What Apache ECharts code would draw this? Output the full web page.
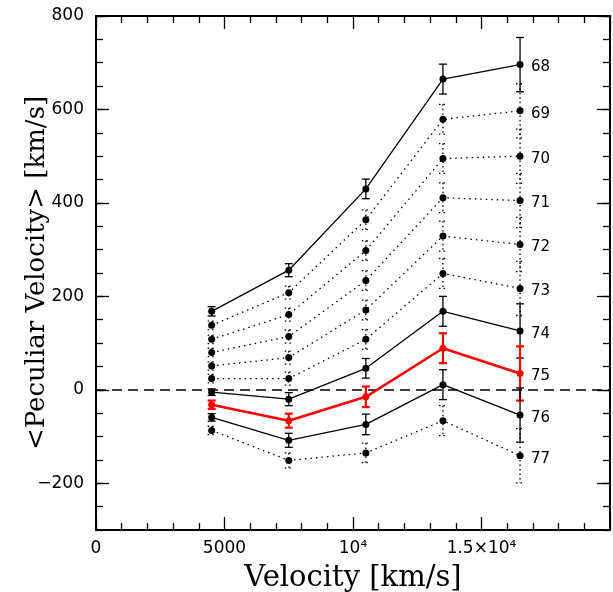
<!DOCTYPE html>
<html>
<head>
<meta charset="utf-8">
<script src="https://cdn.jsdelivr.net/npm/echarts@6/dist/echarts.min.js"></script>
<style>
html,body{margin:0;padding:0;background:#fff;}
#chart{width:613px;height:592px;}
</style>
</head>
<body>
<div id="chart"></div>
<script>
// ---- data ----
const xValues = [4500, 7500, 10500, 13500, 16500];
const seriesNames = ['68','69','70','71','72','73','74','75','76','77'];
const s68 = [168, 256, 430, 665, 696];
const s69 = [138, 208, 364, 579, 597];
const s70 = [108, 161, 298, 495, 500];
const s71 = [80, 114, 234, 411, 405];
const s72 = [51, 69, 171, 329, 311];
const s73 = [24, 24, 108, 249, 217];
const s74 = [-5, -20, 46, 168, 126];
const s75 = [-32, -66, -15, 89, 35];
const s76 = [-59, -108, -74, 11, -54];
const s77 = [-87, -151, -135, -66, -141];
const e68 = [10, 14, 21, 32, 58];
const e69 = [9, 14, 21, 32, 58];
const e70 = [9, 14, 21, 32, 58];
const e71 = [9, 14, 21, 32, 58];
const e72 = [9, 14, 21, 32, 58];
const e73 = [9, 14, 21, 32, 58];
const e74 = [7, 14, 21, 32, 58];
const e75 = [9, 15, 22, 32, 58];
const e76 = [8, 15, 22, 32, 58];
const e77 = [9, 16, 21, 32, 58];
const xTickValues = [0, 5000, 10000, 15000, 20000];
const xTickLabels = ['0', '5000', '10⁴', '1.5×10⁴', ''];
const yMajorTicks = [-200, 0, 200, 400, 600, 800];
const yTickLabels = ['−200', '0', '200', '400', '600', '800'];

// ---- styling (not data) ----
const values = [s68, s69, s70, s71, s72, s73, s74, s75, s76, s77];
const errors = [e68, e69, e70, e71, e72, e73, e74, e75, e76, e77];
const dotted = [false, true, true, true, true, true, false, false, false, true];
const colors = ['#000','#000','#000','#000','#000','#000','#000','#ff0000','#000','#000'];
const widths = [1.3, 1.3, 1.3, 1.3, 1.3, 1.3, 1.3, 2.6, 1.3, 1.3];

const yMin = -300, yMax = 800;
const yMinor = [];
for (let v = yMin; v <= yMax; v += 50) yMinor.push(v);

const tickFont = 'DejaVu Sans';
const lineBlack = {color: '#000', width: 2};

function xFmt(v) {
  const i = xTickValues.indexOf(v);
  return i >= 0 ? xTickLabels[i] : '';
}
function yFmt(v) {
  const i = yMajorTicks.indexOf(v);
  return i >= 0 ? yTickLabels[i] : '';
}

const series = [];
values.forEach((vals, k) => {
  const col = colors[k];
  const lw = widths[k];
  // error bars
  series.push({
    type: 'custom',
    xAxisIndex: 0, yAxisIndex: 0,
    z: 2,
    silent: true,
    data: xValues.map((x, i) => [x, vals[i], errors[k][i]]),
    renderItem: function (params, api) {
      const x = api.value(0), y = api.value(1), e = api.value(2);
      const top = api.coord([x, y + e]);
      const bot = api.coord([x, y - e]);
      const w = 4;
      const style = {stroke: col, lineWidth: k === 7 ? 2.2 : 1.3, fill: null};
      if (dotted[k]) style.lineDash = [1.5, 3];
      return {
        type: 'group',
        children: [
          {type: 'line', shape: {x1: top[0], y1: top[1], x2: bot[0], y2: bot[1]}, style: style},
          {type: 'line', shape: {x1: top[0] - w, y1: top[1], x2: top[0] + w, y2: top[1]}, style: style},
          {type: 'line', shape: {x1: bot[0] - w, y1: bot[1], x2: bot[0] + w, y2: bot[1]}, style: style}
        ]
      };
    }
  });
  const s = {
    type: 'line',
    name: seriesNames[k],
    xAxisIndex: 0, yAxisIndex: 0,
    z: k === 7 ? 5 : 3,
    data: xValues.map((x, i) => [x, vals[i]]),
    symbol: 'circle',
    symbolSize: 7,
    showSymbol: true,
    animation: false,
    itemStyle: {color: col},
    lineStyle: {color: col, width: lw, type: dotted[k] ? [1.5, 4] : 'solid'},
    endLabel: {
      show: true,
      formatter: '{a}',
      distance: 11,
      offset: [0, 3],
      color: '#000',
      fontFamily: tickFont,
      fontSize: 15
    }
  };
  if (k === 0) {
    s.markLine = {
      silent: true,
      symbol: 'none',
      animation: false,
      label: {show: false},
      lineStyle: {color: '#000', width: 1.5, type: [10, 6]},
      data: [{yAxis: 0}]
    };
  }
  series.push(s);
});

const chart = echarts.init(document.getElementById('chart'), null, {renderer: 'canvas'});
chart.setOption({
  animation: false,
  backgroundColor: '#fff',
  grid: {left: 96, right: 3, top: 16, bottom: 62, containLabel: false, outerBoundsMode: 'none'},
  xAxis: [
    {
      type: 'value', position: 'bottom', min: 0, max: 20000, interval: 5000,
      axisLine: {show: true, onZero: false, lineStyle: lineBlack},
      axisTick: {show: true, inside: true, length: 13, lineStyle: {color: '#000', width: 1.3}},
      minorTick: {show: true, splitNumber: 5, length: 7, lineStyle: {color: '#000', width: 1.3}},
      splitLine: {show: false},
      axisLabel: {formatter: xFmt, color: '#000', fontFamily: tickFont, fontSize: 17, margin: 10, showMaxLabel: false},
      name: 'Velocity [km/s]', nameLocation: 'middle', nameGap: 34, nameMoveOverlap: false,
      nameTextStyle: {fontFamily: 'DejaVu Serif', fontSize: 29, color: '#000'}
    },
    {
      type: 'value', position: 'top', min: 0, max: 20000, interval: 5000,
      axisLine: {show: true, onZero: false, lineStyle: lineBlack},
      axisTick: {show: true, inside: true, length: 13, lineStyle: {color: '#000', width: 1.3}},
      minorTick: {show: true, splitNumber: 5, length: 7, lineStyle: {color: '#000', width: 1.3}},
      splitLine: {show: false},
      axisLabel: {show: false}
    }
  ],
  yAxis: [
    {
      type: 'value', position: 'left', min: yMin, max: yMax,
      axisLine: {show: true, onZero: false, lineStyle: lineBlack},
      axisTick: {show: true, inside: true, length: 7, customValues: yMinor, lineStyle: {color: '#000', width: 1.3}},
      splitLine: {show: false},
      axisLabel: {customValues: yMajorTicks, formatter: yFmt, color: '#000', fontFamily: tickFont, fontSize: 17, margin: 12},
      name: '<Peculiar Velocity> [km/s]', nameLocation: 'middle', nameGap: 46, nameMoveOverlap: false,
      nameTextStyle: {fontFamily: 'DejaVu Serif', fontSize: 26, color: '#000'}
    },
    {
      type: 'value', position: 'left', min: yMin, max: yMax,
      axisLine: {show: false, onZero: false},
      axisTick: {show: true, inside: true, length: 13, customValues: yMajorTicks, lineStyle: {color: '#000', width: 1.3}},
      splitLine: {show: false},
      axisLabel: {show: false}
    },
    {
      type: 'value', position: 'right', min: yMin, max: yMax,
      axisLine: {show: true, onZero: false, lineStyle: lineBlack},
      axisTick: {show: true, inside: true, length: 7, customValues: yMinor, lineStyle: {color: '#000', width: 1.3}},
      splitLine: {show: false},
      axisLabel: {show: false}
    },
    {
      type: 'value', position: 'right', min: yMin, max: yMax,
      axisLine: {show: false, onZero: false},
      axisTick: {show: true, inside: true, length: 13, customValues: yMajorTicks, lineStyle: {color: '#000', width: 1.3}},
      splitLine: {show: false},
      axisLabel: {show: false}
    }
  ],
  series: series
});
</script>
</body>
</html>
